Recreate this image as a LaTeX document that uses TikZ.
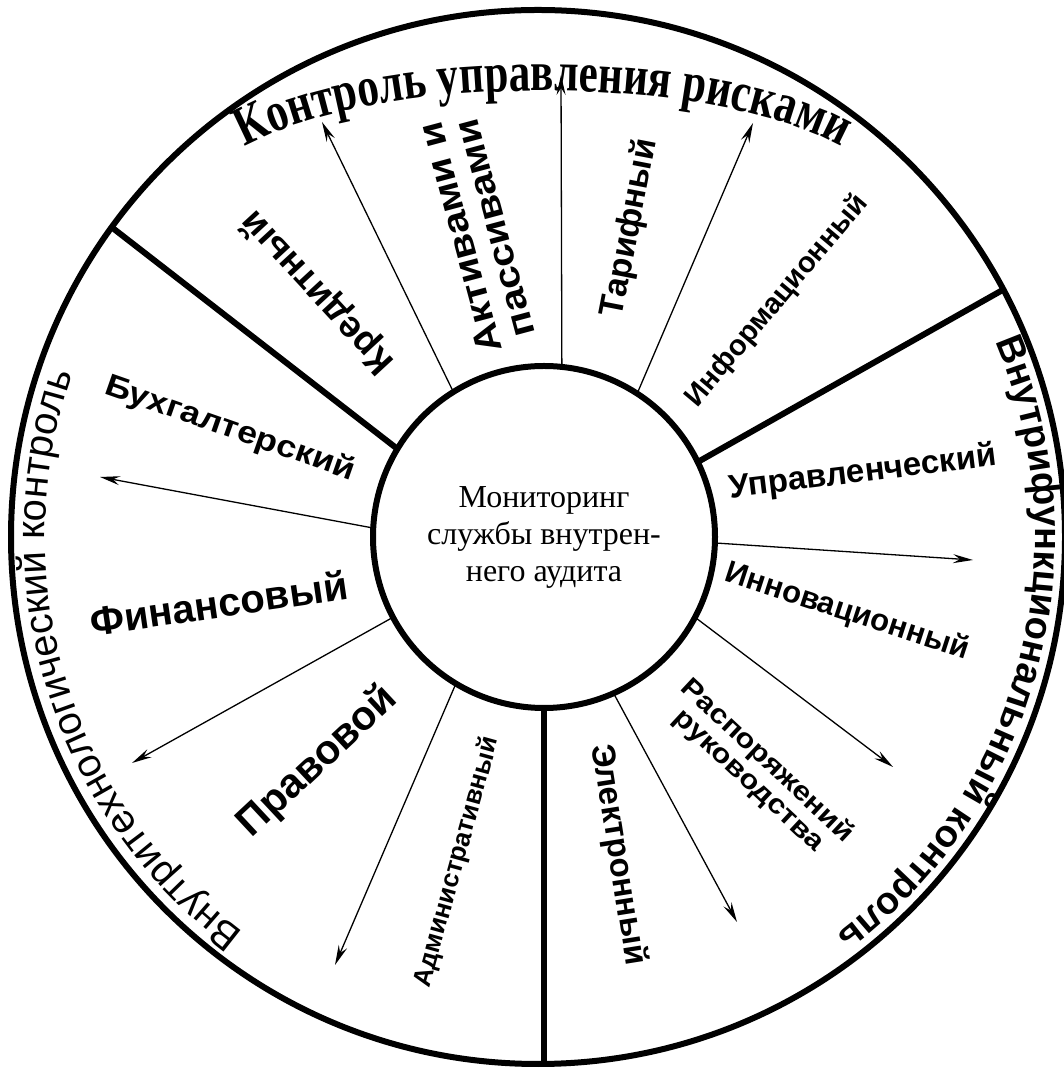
\documentclass[tikz,border=0pt]{standalone}
\usepackage{fontspec}
\setmainfont{Liberation Serif}
\newfontfamily\lblfont{Liberation Sans}
\newfontfamily\lblwide{Liberation Sans}[FakeStretch=1.15]
\newfontfamily\titlefont{Liberation Serif}[FakeStretch=0.77]
\usetikzlibrary{arrows.meta,decorations.text}

\tikzset{
  hub/.style={circle, draw, line width=6pt, minimum size=342pt, inner sep=0pt, outer sep=0pt, align=center, font=\fontsize{32}{37}\selectfont},
  rim/.style={circle, draw, line width=6pt, minimum size=1054pt, inner sep=0pt, outer sep=0pt},
  divider/.style={line width=6pt},
  spoke/.style={line width=1.3pt, -{Stealth[length=20pt, width=9pt, inset=7pt]}},
  lbl/.style={inner sep=0pt, align=center, font=\lblfont\bfseries\fontsize{#1}{#1}\selectfont},
  wlbl/.style={inner sep=0pt, align=center, font=\lblwide\bfseries\fontsize{#1}{#1}\selectfont},
  arctext/.style={decorate, decoration={text along path, text align=center, text={#1}}},
}

\begin{document}
\begin{tikzpicture}[x=1pt, y=1pt]
\useasboundingbox (0,0) rectangle (1064,1068);
\node[rim] (rim) at (538,531) {};
\node[hub] (mon) at (544,531) {Мониторинг\\службы внутрен-\\него аудита};

% sectors
\draw[divider] (mon.149.4) -- (rim.144.2);
\draw[divider] (mon.26.6) -- (rim.28.8);
\draw[divider] (mon.south) -- (mon.south |- rim.south);

% arrow ends
\coordinate (t1) at (322,946);
\coordinate (t2) at (561,993);
\coordinate (t3) at (753,945);
\coordinate (t4) at (973,508);
\coordinate (t5) at (893,301);
\coordinate (t6) at (737,146);
\coordinate (t7) at (100,591);
\coordinate (t8) at (132,305);
\coordinate (t9) at (335,103);
\draw[spoke] (mon.122.4) -- (t1);
\draw[spoke] (mon.84.3) -- (t2);
\draw[spoke] (mon.57.3) -- (t3);
\draw[spoke] (mon.-2.3) -- (t4);
\draw[spoke] (mon.-28.9) -- (t5);
\draw[spoke] (mon.-66.8) -- (t6);
\draw[spoke] (mon.177.7) -- (t7);
\draw[spoke] (mon.208.3) -- (t8);
\draw[spoke] (mon.239.7) -- (t9);

% labels
\node[lbl=37, rotate=132.7] (kred) at (318,776) {Кредитный};
\node[wlbl=36, rotate=105] (akt) at (477,835) {Активами и\\пассивами};
\node[lbl=34, rotate=79] (tarif) at (630,840) {Тарифный};
\node[lbl=29, rotate=50] (inform) at (777,767) {Информационный};
\node[lbl=33, rotate=7] (uprav) at (863,595) {Управленческий};
\node[lbl=31, rotate=-18] (innov) at (847,456) {Инновационный};
\node[wlbl=27, rotate=-43] (rasp) at (758,297) {Распоряжений\\руководства};
\node[lbl=33, rotate=-81] (elektr) at (618,213) {Электронный};
\node[wlbl=31, rotate=-19.3] (buh) at (230,639) {Бухгалтерский};
\node[lbl=40, rotate=8.3] (fin) at (219,465) {Финансовый};
\node[lbl=41, rotate=43] (prav) at (318,306) {Правовой};
\node[lbl=26, rotate=74.5] (adm) at (457,206) {Административный};

% captions along the rim
\path[arctext={|\titlefont\bfseries\fontsize{56}{56}\selectfont|Контроль управления рисками}] (225,909) .. controls (350,1000) and (736,1000) .. (861,909);
\path[arctext={|\lblfont\fontsize{40}{40}\selectfont|Внутритехнологический контроль}] ([shift={(538,531)}]240:493) arc[start angle=240, end angle=154, radius=493];
\path[arctext={|\lblfont\bfseries\fontsize{38}{38}\selectfont|Внутрифункциональный контроль}] ([shift={(538,531)}]26:497) arc[start angle=26, end angle=-56, radius=497];
\end{tikzpicture}
\end{document}
